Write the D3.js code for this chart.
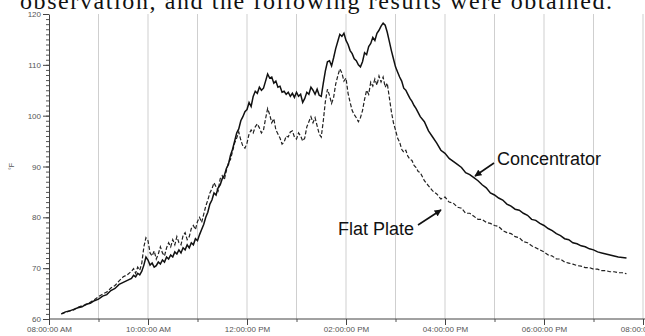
<!DOCTYPE html>
<html>
<head>
<meta charset="utf-8">
<script src="https://cdn.jsdelivr.net/npm/d3@7"></script>
<style>
  html, body { margin: 0; padding: 0; background: #fff; }
  svg { display: block; }
</style>
</head>
<body>
<svg id="chart" width="645" height="336"></svg>
<script>
// Collector temperatures logged over one day (minutes after 08:00 AM, °F).
// Logging interval: 5 min, 2.5 min around midday, 5 min again in the evening.
const minutes = [].concat(
  d3.range(15, 100.1, 5),
  d3.range(102.5, 450.1, 2.5),
  d3.range(455, 700.1, 5)
);

const concentrator = [
  // 08:15 - 09:40
  61.0, 61.4, 61.6, 61.9, 62.2, 62.4, 62.9, 63.1, 63.6, 63.9,
  64.5, 64.8, 65.6, 66.0, 66.8, 67.2, 67.6, 68.0,
  // 09:42 - 15:30
  68.6, 68.3, 69.0, 68.7, 69.4, 70.6, 72.2, 71.6, 70.6, 71.0,
  70.2, 70.5, 71.2, 70.8, 71.6, 71.2, 72.2, 71.8, 72.6, 72.2,
  73.2, 72.8, 73.6, 73.0, 74.0, 73.6, 74.6, 74.0, 75.0, 74.6,
  75.8, 75.4, 76.6, 77.6, 78.6, 80.0, 81.0, 82.6, 83.4, 84.8,
  84.4, 85.8, 86.4, 87.6, 88.2, 89.6, 90.4, 92.2, 93.4, 95.0,
  96.6, 97.4, 99.0, 99.8, 100.8, 101.2, 102.6, 101.8, 103.8, 104.8,
  104.4, 105.6, 105.0, 105.4, 106.8, 108.2, 107.4, 107.6, 106.4, 106.8,
  105.6, 105.8, 104.6, 104.8, 104.2, 104.6, 103.8, 104.4, 103.6, 104.6,
  103.8, 104.2, 102.6, 103.4, 104.6, 104.2, 105.6, 105.0, 104.2, 105.2,
  104.0, 103.8, 106.4, 108.8, 110.6, 110.8, 109.8, 111.4, 113.2, 114.6,
  116.0, 115.6, 116.2, 114.8, 114.0, 112.8, 112.2, 111.2, 110.8, 110.0,
  109.6, 110.6, 112.4, 112.0, 113.6, 114.2, 115.4, 114.8, 116.2, 116.8,
  117.6, 118.2, 117.8, 116.4, 114.6, 112.8, 111.2, 109.6, 108.6, 107.6,
  106.8, 105.4, 105.0, 104.2, 103.4, 102.8, 102.0, 101.4, 100.6, 99.8,
  // 15:35 - 19:40
  98.8, 97.0, 95.8, 94.6, 93.2, 92.6, 91.6, 91.0, 90.4, 89.8,
  88.8, 88.4, 87.8, 87.2, 86.4, 85.8, 84.8, 84.4, 83.8, 83.4,
  82.6, 82.2, 81.6, 81.4, 80.8, 80.4, 79.6, 79.4, 78.8, 78.4,
  77.8, 77.4, 76.8, 76.4, 75.8, 75.6, 75.0, 74.8, 74.4, 74.2,
  73.8, 73.6, 73.2, 73.0, 72.8, 72.6, 72.4, 72.2, 72.1, 72.0
];

const flatPlate = [
  // 08:15 - 09:40
  61.0, 61.3, 61.6, 61.8, 62.3, 62.6, 62.8, 63.3, 63.8, 64.4,
  64.9, 65.3, 66.1, 66.6, 67.5, 68.3, 68.7, 69.4,
  // 09:42 - 15:30
  69.9, 69.0, 70.2, 69.6, 71.0, 74.2, 76.0, 75.4, 73.0, 72.4,
  73.4, 71.8, 72.8, 74.2, 73.0, 72.4, 74.0, 75.0, 74.2, 75.6,
  74.6, 76.2, 75.0, 74.6, 76.4, 77.0, 75.6, 76.2, 77.8, 78.4,
  77.6, 79.2, 80.0, 79.0, 80.6, 82.2, 83.4, 84.8, 85.6, 86.8,
  86.0, 85.2, 87.6, 88.2, 87.4, 89.2, 90.8, 91.4, 93.0, 94.6,
  95.6, 96.8, 95.2, 94.0, 93.6, 94.6, 96.4, 97.2, 96.6, 97.8,
  98.4, 97.6, 96.6, 97.2, 99.4, 101.4, 100.2, 98.6, 99.4, 97.2,
  96.4, 95.6, 94.4, 94.8, 96.0, 95.8, 96.8, 97.0, 95.8, 95.4,
  96.6, 96.0, 95.0, 95.6, 97.8, 98.8, 99.8, 98.6, 99.6, 98.0,
  96.4, 95.8, 99.0, 102.8, 105.2, 104.0, 102.4, 103.6, 106.2, 107.8,
  109.2, 108.4, 106.8, 107.4, 104.4, 102.6, 101.0, 100.2, 99.6, 98.8,
  99.6, 101.0, 103.2, 105.0, 104.2, 106.6, 105.8, 107.2, 106.0, 107.8,
  106.6, 107.6, 105.6, 106.4, 103.6, 100.8, 98.6, 97.2, 95.6, 94.8,
  93.4, 92.8, 93.2, 92.0, 91.4, 91.2, 90.2, 89.8, 89.0, 88.8,
  // 15:35 - 19:40
  87.2, 86.2, 85.2, 84.6, 83.6, 84.0, 83.0, 82.8, 82.0, 81.8,
  80.8, 80.8, 80.2, 79.6, 79.6, 79.0, 78.8, 78.4, 78.2, 77.4,
  77.0, 76.8, 76.2, 76.0, 75.2, 75.0, 74.4, 74.0, 73.6, 73.2,
  72.6, 72.4, 71.8, 71.8, 71.2, 71.0, 70.8, 70.5, 70.4, 70.1,
  70.1, 69.8, 69.8, 69.5, 69.5, 69.3, 69.3, 69.1, 69.1, 68.9
];

// Axis ticks
const hourTicks = [60, 120, 180, 240, 300, 360, 420, 480, 540, 600, 660, 720];
const labelTicks = [0, 120, 240, 360, 480, 600, 720];
const tempLabels = [60, 70, 80, 90, 100, 110, 120];
const tempMinor = d3.range(60, 121, 1);

const headline = "observation, and the following results were obtained.";

const svg = d3.select("#chart");
const x = d3.scaleLinear().domain([0, 720]).range([49, 643]);
const y = d3.scaleLinear().domain([60, 120]).range([319, 14]);

const base = new Date(2000, 0, 1, 8, 0, 0);
const fmt = d3.timeFormat("%I:%M:%S %p");
const timeLabel = m => fmt(new Date(base.getTime() + m * 60000));

// Running text line above the figure (partly cut by the top edge)
svg.append("text")
  .attr("x", 20).attr("y", 9)
  .attr("font-family", "Liberation Serif, Times New Roman, serif")
  .attr("font-size", 24)
  .attr("textLength", 592)
  .attr("fill", "#111")
  .text(headline);

// Hourly vertical gridlines
svg.append("g").selectAll("line").data(hourTicks).join("line")
  .attr("x1", d => x(d)).attr("x2", d => x(d))
  .attr("y1", y(120)).attr("y2", y(60))
  .attr("stroke", "#cfcfcf").attr("stroke-width", 1);

// Y axis: labelled every 10 °F, minor tick every degree
const yMinor = svg.append("g").attr("transform", `translate(${x(0)},0)`)
  .call(d3.axisLeft(y).tickValues(tempMinor).tickSize(3).tickFormat(""));
yMinor.select(".domain").remove();
yMinor.selectAll("line").attr("stroke", "#555");

const yAxis = svg.append("g").attr("transform", `translate(${x(0)},0)`)
  .call(d3.axisLeft(y).tickValues(tempLabels).tickSize(6).tickPadding(2).tickSizeOuter(0));
yAxis.select(".domain").attr("stroke", "#444");
yAxis.selectAll("line").attr("stroke", "#444");
yAxis.selectAll("text")
  .attr("font-family", "Liberation Sans, Arial, sans-serif")
  .attr("font-size", 8).attr("fill", "#555");

// X axis: hourly ticks, labels every two hours
const xMinor = svg.append("g").attr("transform", `translate(0,${y(60)})`)
  .call(d3.axisBottom(x).tickValues(hourTicks).tickSize(3).tickFormat(""));
xMinor.select(".domain").remove();
xMinor.selectAll("line").attr("stroke", "#555");

const xAxis = svg.append("g").attr("transform", `translate(0,${y(60)})`)
  .call(d3.axisBottom(x).tickValues(labelTicks).tickSize(6).tickPadding(1)
    .tickSizeOuter(0).tickFormat(timeLabel));
xAxis.select(".domain").attr("stroke", "#444").attr("d", `M${x(0)},0H645`);
xAxis.selectAll("line").attr("stroke", "#444");
xAxis.selectAll("text")
  .attr("font-family", "Liberation Sans, Arial, sans-serif")
  .attr("font-size", 8).attr("fill", "#555");

// Unit label
svg.append("text")
  .attr("transform", `translate(14,${y(90)}) rotate(-90)`)
  .attr("text-anchor", "middle")
  .attr("font-family", "Liberation Sans, Arial, sans-serif")
  .attr("font-size", 7).attr("fill", "#555")
  .text("°F");

// Series
const line = d3.line().x((d, i) => x(minutes[i])).y(d => y(d));

svg.append("path").datum(flatPlate)
  .attr("d", line).attr("fill", "none")
  .attr("stroke", "#222").attr("stroke-width", 1.2)
  .attr("stroke-dasharray", "4,2");

svg.append("path").datum(concentrator)
  .attr("d", line).attr("fill", "none")
  .attr("stroke", "#111").attr("stroke-width", 1.5);

// Callouts
const defs = svg.append("defs");
defs.append("marker").attr("id", "head")
  .attr("viewBox", "0 0 10 10").attr("refX", 9).attr("refY", 5)
  .attr("markerWidth", 7).attr("markerHeight", 7)
  .attr("markerUnits", "userSpaceOnUse")
  .attr("orient", "auto")
  .append("path").attr("d", "M0,0L10,5L0,10z").attr("fill", "#111");

const callouts = [
  { text: "Concentrator", tx: 497, ty: 165, from: [494, 163], to: [475, 176] },
  { text: "Flat Plate", tx: 338, ty: 235, from: [418, 225], to: [441, 210] }
];

svg.append("g").selectAll("text").data(callouts).join("text")
  .attr("x", d => d.tx).attr("y", d => d.ty)
  .attr("font-family", "Liberation Sans, Arial, sans-serif")
  .attr("font-size", 18).attr("fill", "#111")
  .text(d => d.text);

svg.append("g").selectAll("line").data(callouts).join("line")
  .attr("x1", d => d.from[0]).attr("y1", d => d.from[1])
  .attr("x2", d => d.to[0]).attr("y2", d => d.to[1])
  .attr("stroke", "#111").attr("stroke-width", 1.6)
  .attr("marker-end", "url(#head)");
</script>
</body>
</html>
